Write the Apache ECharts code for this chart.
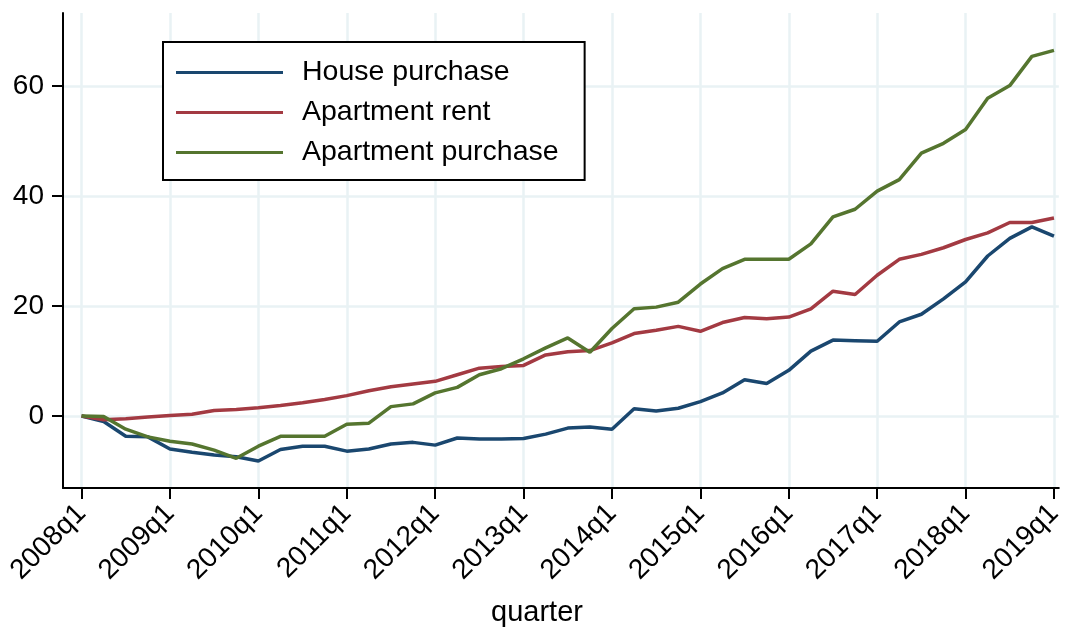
<!DOCTYPE html>
<html>
<head>
<meta charset="utf-8">
<script src="https://cdn.jsdelivr.net/npm/echarts@6/dist/echarts.min.js"></script>
<style>
    html, body {
        margin: 0;
        padding: 0;
        background: #fff;
    }
    #main {
        width: 1066px;
        height: 627px;
    }
</style>
</head>
<body>
<div id="main"></div>
<script>
    // quarters on the x axis
    var quarters = [
        '2008q1','2008q2','2008q3','2008q4','2009q1','2009q2','2009q3','2009q4',
        '2010q1','2010q2','2010q3','2010q4','2011q1','2011q2','2011q3','2011q4',
        '2012q1','2012q2','2012q3','2012q4','2013q1','2013q2','2013q3','2013q4',
        '2014q1','2014q2','2014q3','2014q4','2015q1','2015q2','2015q3','2015q4',
        '2016q1','2016q2','2016q3','2016q4','2017q1','2017q2','2017q3','2017q4',
        '2018q1','2018q2','2018q3','2018q4','2019q1'
    ]

    // labelled ticks
    var xTickLabels = ['2008q1','2009q1','2010q1','2011q1','2012q1','2013q1',
                       '2014q1','2015q1','2016q1','2017q1','2018q1','2019q1']
    var yTickValues = [0, 20, 40, 60]

    var housePurchase = [
        0, -1.0, -3.7, -3.8, -6.0, -6.6, -7.1, -7.4, -8.2, -6.1, -5.5, -5.5,
        -6.4, -6.0, -5.1, -4.8, -5.3, -4.0, -4.2, -4.2, -4.1, -3.3, -2.2, -2.0,
        -2.4, 1.3, 0.9, 1.4, 2.6, 4.2, 6.6, 5.9, 8.3, 11.8, 13.8, 13.7,
        13.6, 17.1, 18.5, 21.3, 24.4, 29.1, 32.3, 34.4, 32.7
    ]

    var apartmentRent = [
        0, -0.7, -0.5, -0.2, 0.1, 0.3, 1.0, 1.2, 1.5, 1.9, 2.4, 3.0,
        3.7, 4.6, 5.3, 5.8, 6.3, 7.5, 8.7, 9.0, 9.2, 11.1, 11.7, 11.9,
        13.3, 15.0, 15.6, 16.3, 15.4, 17.0, 17.9, 17.7, 18.0, 19.5, 22.7, 22.1,
        25.6, 28.5, 29.4, 30.6, 32.1, 33.3, 35.2, 35.2, 36.0
    ]

    var apartmentPurchase = [
        0, -0.1, -2.4, -3.8, -4.6, -5.1, -6.2, -7.7, -5.5, -3.7, -3.7, -3.7,
        -1.5, -1.3, 1.7, 2.2, 4.2, 5.2, 7.5, 8.6, 10.4, 12.4, 14.2, 11.6,
        15.9, 19.5, 19.8, 20.7, 24.0, 26.8, 28.5, 28.5, 28.5, 31.3, 36.2, 37.6,
        40.9, 43.0, 47.8, 49.6, 52.1, 57.8, 60.1, 65.4, 66.5
    ]

    var font = '"Liberation Sans", Arial, sans-serif'
    var gridColor = '#e9f2f4'

    function pairs (arr) {
        return arr.map(function (v, i) { return [i, v] })
    }

    var xTickIndex = xTickLabels.map(function (q) { return quarters.indexOf(q) })

    var myChart = echarts.init(document.getElementById('main'), null, { renderer: 'canvas' })

    myChart.setOption({
        animation: false,
        backgroundColor: '#fff',
        grid: {
            left: 63,
            right: 0,
            top: 13,
            bottom: 139,
            containLabel: false
        },
        legend: {
            orient: 'vertical',
            left: 163,
            top: 42,
            padding: [16, 26, 13, 13],
            icon: 'rect',
            itemWidth: 107,
            itemHeight: 3,
            itemGap: 11,
            borderColor: '#000',
            borderWidth: 2,
            backgroundColor: '#fff',
            textStyle: {
                fontFamily: font,
                fontSize: 28.5,
                lineHeight: 28,
                color: '#000',
                padding: [0, 0, 0, 14]
            },
            data: ['House purchase', 'Apartment rent', 'Apartment purchase']
        },
        xAxis: {
            type: 'value',
            min: -0.84,
            max: 44.22,
            axisLine: { show: true, onZero: false, lineStyle: { color: '#000', width: 2 } },
            axisTick: {
                show: true,
                length: 11,
                customValues: xTickIndex,
                lineStyle: { color: '#000', width: 2 }
            },
            axisLabel: {
                customValues: xTickIndex,
                rotate: 45,
                margin: 21,
                fontFamily: font,
                fontSize: 28,
                color: '#000',
                showMinLabel: true,
                showMaxLabel: true,
                formatter: function (v) { return quarters[Math.round(v)] }
            },
            splitLine: { show: true, lineStyle: { color: gridColor, width: 2.5 } }
        },
        yAxis: {
            type: 'value',
            min: -13.1,
            max: 73.3,
            axisLine: { show: true, onZero: false, lineStyle: { color: '#000', width: 2 } },
            axisTick: {
                show: true,
                length: 11,
                customValues: yTickValues,
                lineStyle: { color: '#000', width: 2 }
            },
            axisLabel: {
                customValues: yTickValues,
                margin: 19,
                fontFamily: font,
                fontSize: 28,
                color: '#000'
            },
            splitLine: { show: true, lineStyle: { color: gridColor, width: 2.5 } }
        },
        graphic: [{
            type: 'text',
            x: 537,
            y: 613,
            style: {
                text: 'quarter',
                fontFamily: font,
                fontSize: 29,
                fill: '#000',
                textAlign: 'center',
                textVerticalAlign: 'middle'
            }
        }],
        series: [
            {
                name: 'House purchase',
                type: 'line',
                symbol: 'none',
                color: '#1a476f',
                lineStyle: { width: 3.5, color: '#1a476f' },
                data: pairs(housePurchase)
            },
            {
                name: 'Apartment rent',
                type: 'line',
                symbol: 'none',
                color: '#a33a42',
                lineStyle: { width: 3.5, color: '#a33a42' },
                data: pairs(apartmentRent)
            },
            {
                name: 'Apartment purchase',
                type: 'line',
                symbol: 'none',
                color: '#55752f',
                lineStyle: { width: 3.5, color: '#55752f' },
                data: pairs(apartmentPurchase)
            }
        ]
    })
</script>
</body>
</html>
